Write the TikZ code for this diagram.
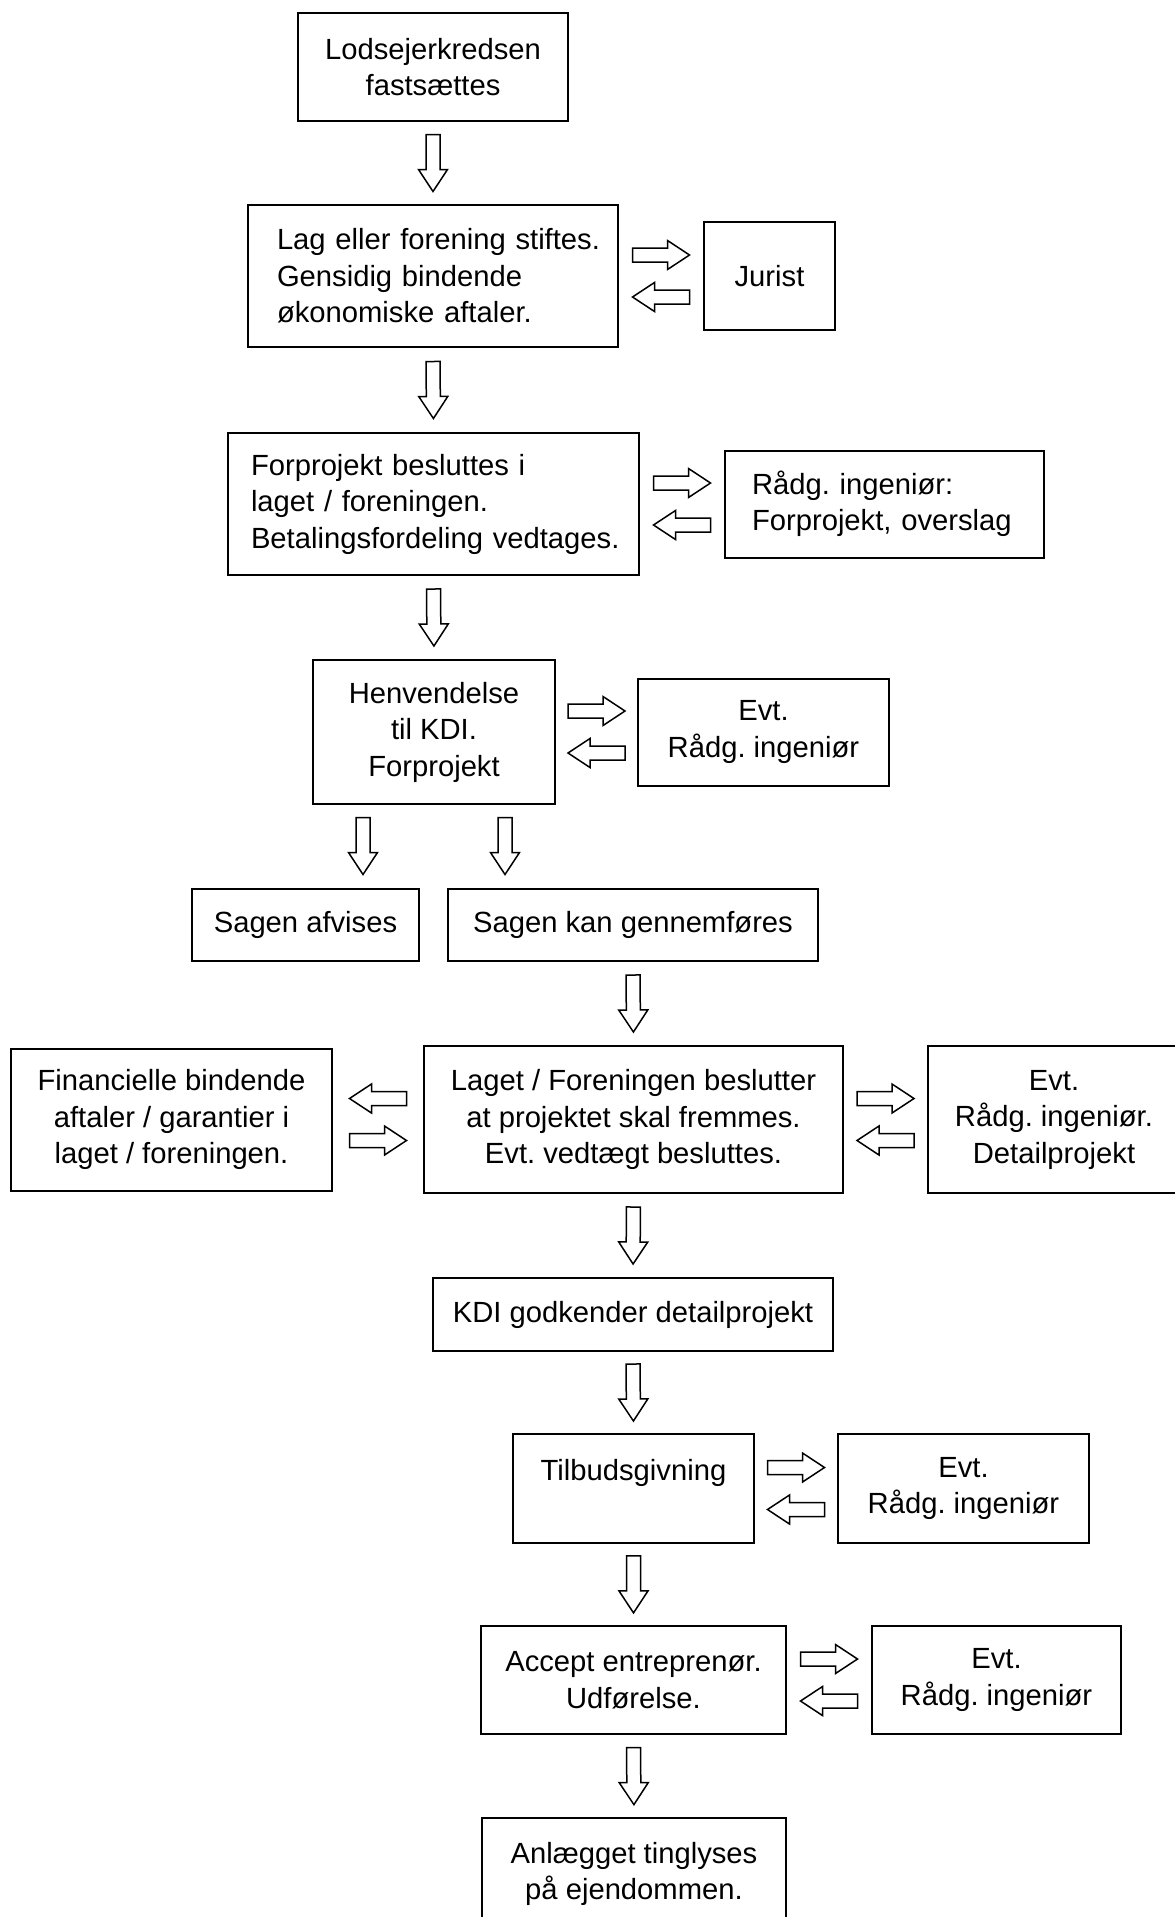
\documentclass[tikz,border=0pt]{standalone}
\usepackage{fontspec}
\setmainfont{Liberation Sans}
\usetikzlibrary{calc}
\frenchspacing
\tikzset{
  box/.style={draw, line width=1pt, inner sep=0pt, align=center,
    font=\fontsize{14.6pt}{18.25pt}\selectfont},
  barrow/.style={line width=0.75pt, line join=miter, to path={
    let \p1=(\tikztostart), \p2=(\tikztotarget), \p3=($(\p1)!0.5!(\p2)$),
        \n1={atan2(\y2-\y1,\x2-\x1)} in
    ($(\p3)+(\n1+180:14.25pt)+(\n1+90:3.5pt)$) --
    ($(\p3)+(\n1:3.25pt)+(\n1+90:3.5pt)$) --
    ($(\p3)+(\n1:3.25pt)+(\n1+90:7.25pt)$) --
    ($(\p3)+(\n1:14.25pt)$) --
    ($(\p3)+(\n1:3.25pt)+(\n1-90:7.25pt)$) --
    ($(\p3)+(\n1:3.25pt)+(\n1-90:3.5pt)$) --
    ($(\p3)+(\n1+180:14.25pt)+(\n1-90:3.5pt)$) -- cycle
  }}
}
\begin{document}
\frenchspacing
\begin{tikzpicture}[x=0.5pt,y=-0.5pt]
\useasboundingbox (0,0) rectangle (1174,1917);

\node[box, minimum width=135pt, minimum height=54pt] (b1) at (433,67) {Lodsejerkredsen\\fastsættes};
\node[box, minimum width=185pt, minimum height=71pt, text width=156pt, align=left] (b2) at (433,276)
  {\mbox{Lag eller forening stiftes.}\\\mbox{Gensidig bindende}\\\mbox{økonomiske aftaler.}};
\node[box, minimum width=65.5pt, minimum height=54pt] (jur) at (769.5,276) {Jurist};

\node[box, minimum width=205.5pt, minimum height=71pt, text width=182.5pt, align=left] (b3) at (433.5,504)
  {\mbox{Forprojekt besluttes i}\\\mbox{laget / foreningen.}\\\mbox{Betalingsfordeling vedtages.}};
\node[box, minimum width=159.5pt, minimum height=53.5pt, text width=132.5pt, align=left] (r3) at (884.5,504)
  {\mbox{Rådg. ingeniør:}\\\mbox{Forprojekt, overslag}};

\node[box, minimum width=121pt, minimum height=72pt] (b4) at (434,732) {Henvendelse\\til KDI.\\Forprojekt};
\node[box, minimum width=125.5pt, minimum height=53.5pt] (r4) at (763.5,732) {Evt.\\Rådg. ingeniør};

\node[box, minimum width=113.5pt, minimum height=36pt] (afv) at (305.5,925) {Sagen afvises};
\node[box, minimum width=185pt, minimum height=36pt] (gen) at (633,925) {Sagen kan gennemføres};

\node[box, minimum width=209.5pt, minimum height=73.5pt] (b6) at (633.5,1119.5)
  {Laget / Foreningen beslutter\\at projektet skal fremmes.\\Evt. vedtægt besluttes.};
\node[box, minimum width=160.5pt, minimum height=71pt] (fin) at (171.5,1119.5)
  {Financielle bindende\\aftaler / garantier i\\laget / foreningen.};
\node[box, minimum width=126pt, minimum height=73.5pt] (r6) at (1054,1119.5)
  {Evt.\\Rådg. ingeniør.\\Detailprojekt};

\node[box, minimum width=200pt, minimum height=36.5pt] (kdi) at (633,1314.5) {KDI godkender detailprojekt};

\node[box, minimum width=120.5pt, minimum height=54.5pt] (tilb) at (633.5,1488.5) {Tilbudsgivning\\\mbox{}};
\node[box, minimum width=125.5pt, minimum height=54.5pt] (r7) at (963.5,1488.5) {Evt.\\Rådg. ingeniør};

\node[box, minimum width=152.5pt, minimum height=54.25pt] (acc) at (633.5,1680) {Accept entreprenør.\\Udførelse.};
\node[box, minimum width=124.5pt, minimum height=54.25pt] (r8) at (996.5,1680) {Evt.\\Rådg. ingeniør};

\node[box, minimum width=152pt, minimum height=56pt] (anl) at (634,1874) {Anlægget tinglyses\\på ejendommen.};

\coordinate (d1) at (363,804);
\coordinate (d2) at (505,804);

% vertical flow
\draw[barrow] (b1.south) to (b2.north);
\draw[barrow] (b2.south) to (b3.north);
\draw[barrow] (b3.south) to (b4.north);
\draw[barrow] (d1) to (d1 |- afv.north);
\draw[barrow] (d2) to (d2 |- gen.north);
\draw[barrow] (gen.south) to (b6.north);
\draw[barrow] (b6.south) to (kdi.north);
\draw[barrow] (kdi.south) to (tilb.north);
\draw[barrow] (tilb.south) to (acc.north);
\draw[barrow] (acc.south) to (anl.north);

% side exchanges
\draw[barrow] ([yshift=10.5pt]b2.east) to ([yshift=10.5pt]jur.west);
\draw[barrow] ([yshift=-10.5pt]jur.west) to ([yshift=-10.5pt]b2.east);
\draw[barrow] ([yshift=10.5pt]b3.east) to ([yshift=10.5pt]r3.west);
\draw[barrow] ([yshift=-10.5pt]r3.west) to ([yshift=-10.5pt]b3.east);
\draw[barrow] ([yshift=10.5pt]b4.east) to ([yshift=10.5pt]r4.west);
\draw[barrow] ([yshift=-10.5pt]r4.west) to ([yshift=-10.5pt]b4.east);
\draw[barrow] ([yshift=10.5pt]b6.west) to ([yshift=10.5pt]fin.east);
\draw[barrow] ([yshift=-10.5pt]fin.east) to ([yshift=-10.5pt]b6.west);
\draw[barrow] ([yshift=10.5pt]b6.east) to ([yshift=10.5pt]r6.west);
\draw[barrow] ([yshift=-10.5pt]r6.west) to ([yshift=-10.5pt]b6.east);
\draw[barrow] ([yshift=10.5pt]tilb.east) to ([yshift=10.5pt]r7.west);
\draw[barrow] ([yshift=-10.5pt]r7.west) to ([yshift=-10.5pt]tilb.east);
\draw[barrow] ([yshift=10.5pt]acc.east) to ([yshift=10.5pt]r8.west);
\draw[barrow] ([yshift=-10.5pt]r8.west) to ([yshift=-10.5pt]acc.east);
\end{tikzpicture}
\end{document}
